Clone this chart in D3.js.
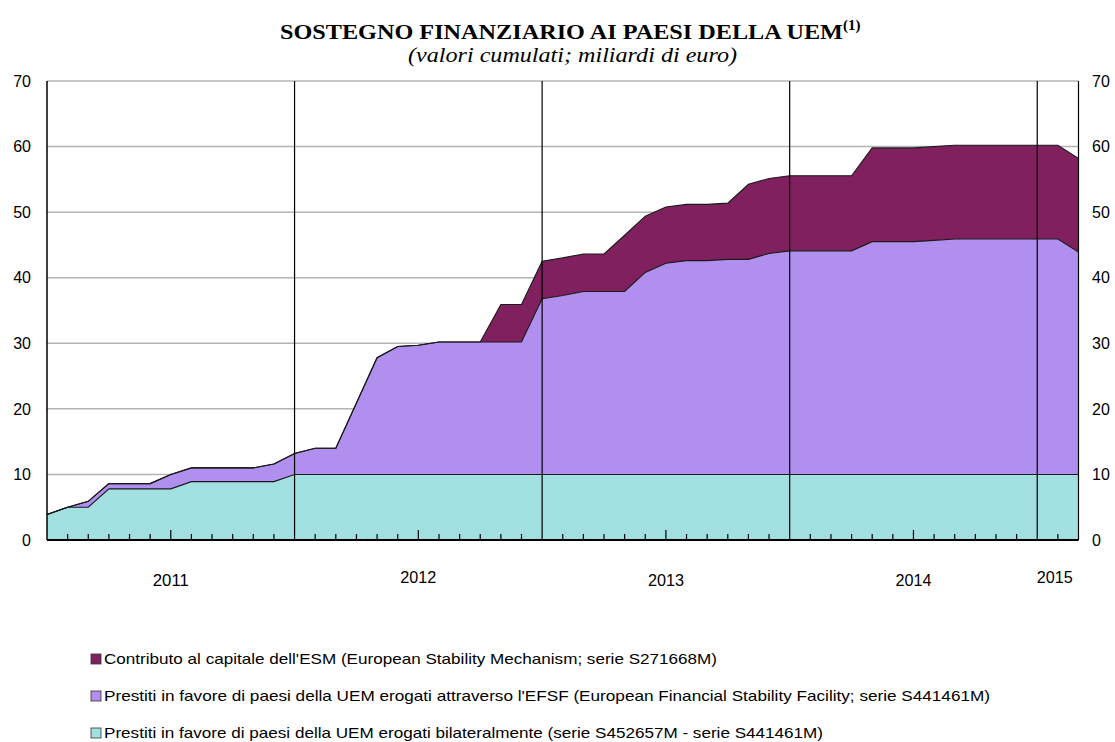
<!DOCTYPE html>
<html>
<head>
<meta charset="utf-8">
<title>Sostegno finanziario ai paesi della UEM</title>
<style>
  body { margin: 0; background: #fff; }
  text { font-family: "Liberation Sans", Arial, sans-serif; }
</style>
</head>
<body>
<script src="https://cdn.jsdelivr.net/npm/d3@7"></script>
<script>
// mesi gen 2011 - mar 2015
var months = d3.timeMonth.range(new Date(2011, 0, 1), new Date(2015, 3, 1)).map(d3.timeFormat("%Y-%m"));

// prestiti bilaterali
var bilat = [3.9, 5.0, 5.0, 7.8, 7.8, 7.8, 7.8, 8.9, 8.9, 8.9, 8.9, 8.9,
  10, 10, 10, 10, 10, 10, 10, 10, 10, 10, 10, 10,
  10, 10, 10, 10, 10, 10, 10, 10, 10, 10, 10, 10,
  10, 10, 10, 10, 10, 10, 10, 10, 10, 10, 10, 10,
  10, 10, 10];
// prestiti EFSF
var efsf = [0, 0, 0.9, 0.8, 0.8, 0.8, 2.2, 2.1, 2.1, 2.1, 2.1, 2.7,
  3.2, 4.0, 4.0, 10.9, 17.8, 19.5, 19.7, 20.2, 20.2, 20.2, 20.2, 20.2,
  26.8, 27.3, 27.9, 27.9, 27.9, 30.8, 32.2, 32.6, 32.6, 32.8, 32.8, 33.7,
  34.1, 34.1, 34.1, 34.1, 35.5, 35.5, 35.5, 35.7, 35.9, 35.9, 35.9, 35.9,
  35.9, 35.9, 33.9];
// capitale ESM
var esm = [0, 0, 0, 0, 0, 0, 0, 0, 0, 0, 0, 0,
  0, 0, 0, 0, 0, 0, 0, 0, 0, 0, 5.72, 5.72,
  5.72, 5.72, 5.72, 5.72, 8.58, 8.58, 8.58, 8.58, 8.58, 8.58, 11.44, 11.44,
  11.44, 11.44, 11.44, 11.44, 14.3, 14.3, 14.3, 14.3, 14.3, 14.3, 14.3, 14.3,
  14.3, 14.3, 14.3];

var yTicks = [0, 10, 20, 30, 40, 50, 60, 70];
var years = ["2011", "2012", "2013", "2014", "2015"];
var yearStart = ["2011-01", "2012-01", "2013-01", "2014-01", "2015-01"];
var yearLabelAt = ["2011-07", "2012-07", "2013-07", "2014-07", "2015-02"];
var keys = ["esm", "efsf", "bilat"];
var legendText = [
  "Contributo al capitale dell'ESM (European Stability Mechanism; serie S271668M)",
  "Prestiti in favore di paesi della UEM erogati attraverso l'EFSF (European Financial Stability Facility; serie S441461M)",
  "Prestiti in favore di paesi della UEM erogati bilateralmente (serie S452657M - serie S441461M)"
];
var legendLen = [613, 886, 719];
var colors = { bilat: "#a2dfe0", efsf: "#b18fee", esm: "#80205e" };

var table = months.map(function (m, i) {
  return { month: m, bilat: bilat[i], efsf: efsf[i], esm: esm[i] };
});

var W = 1115, H = 742;
var pLeft = 47, pRight = 1078.5, pTop = 81, pBottom = 540;

var svg = d3.select("body").append("svg")
  .attr("width", W)
  .attr("height", H);

var x = d3.scalePoint().domain(months).range([pLeft, pRight]);
var y = d3.scaleLinear().domain([0, 70]).range([pBottom, pTop]);

// titolo
var title = svg.append("text")
  .attr("x", 280)
  .attr("y", 39)
  .style("font-family", "'Liberation Serif', 'Times New Roman', serif")
  .style("font-weight", "bold")
  .style("font-size", "21px");
title.append("tspan")
  .attr("textLength", 563)
  .attr("lengthAdjust", "spacingAndGlyphs")
  .text("SOSTEGNO FINANZIARIO AI PAESI DELLA UEM");
title.append("tspan").attr("dy", -9).style("font-size", "15px").text("(1)");

svg.append("text")
  .attr("x", 408)
  .attr("y", 62)
  .attr("textLength", 329)
  .attr("lengthAdjust", "spacingAndGlyphs")
  .style("font-family", "'Liberation Serif', 'Times New Roman', serif")
  .style("font-style", "italic")
  .style("font-size", "20px")
  .text("(valori cumulati; miliardi di euro)");

// griglia
svg.selectAll(".grid")
  .data(yTicks.filter(function (d) { return d > 0; }))
  .enter().append("line")
  .attr("x1", pLeft).attr("x2", pRight)
  .attr("y1", function (d) { return y(d); })
  .attr("y2", function (d) { return y(d); })
  .attr("stroke", "#b4b4b4")
  .attr("stroke-width", 1.5);

// aree impilate
var stack = d3.stack().keys(["bilat", "efsf", "esm"]);
var series = stack(table);

var area = d3.area()
  .x(function (d) { return x(d.data.month); })
  .y0(function (d) { return y(d[0]); })
  .y1(function (d) { return y(d[1]); });

var topLine = d3.line()
  .x(function (d) { return x(d.data.month); })
  .y(function (d) { return y(d[1]); });

svg.selectAll(".area")
  .data(series)
  .enter().append("path")
  .attr("d", area)
  .attr("fill", function (d) { return colors[d.key]; });

svg.selectAll(".edge")
  .data(series)
  .enter().append("path")
  .attr("d", topLine)
  .attr("fill", "none")
  .attr("stroke", "#1a1a1a")
  .attr("stroke-width", 1.1);

// linee anni
svg.selectAll(".yearline")
  .data(yearStart.slice(1))
  .enter().append("line")
  .attr("x1", function (d) { return x(d); })
  .attr("x2", function (d) { return x(d); })
  .attr("y1", pTop).attr("y2", pBottom)
  .attr("stroke", "#000")
  .attr("stroke-width", 1.2);

// tacche mensili
svg.selectAll(".tick")
  .data(months.filter(function (m, i) { return i > 0 && i < months.length - 1 && m.slice(5) != "01"; }))
  .enter().append("line")
  .attr("x1", function (d) { return x(d); })
  .attr("x2", function (d) { return x(d); })
  .attr("y1", pBottom)
  .attr("y2", function (d) { return d.slice(5) == "07" ? pBottom - 10 : pBottom - 6; })
  .attr("stroke", "#000")
  .attr("stroke-width", 1.2);

// bordi
svg.append("line")
  .attr("x1", pLeft).attr("x2", pLeft).attr("y1", pTop).attr("y2", pBottom)
  .attr("stroke", "#000").attr("stroke-width", 1.5);
svg.append("line")
  .attr("x1", pRight).attr("x2", pRight).attr("y1", pTop).attr("y2", pBottom)
  .attr("stroke", "#000").attr("stroke-width", 1.2);
svg.append("line")
  .attr("x1", pLeft).attr("x2", pRight).attr("y1", pBottom).attr("y2", pBottom)
  .attr("stroke", "#000").attr("stroke-width", 1.8);

// etichette asse y
svg.selectAll(".yl")
  .data(yTicks)
  .enter().append("text")
  .attr("x", 31)
  .attr("y", function (d) { return y(d); })
  .attr("dy", "0.36em")
  .attr("text-anchor", "end")
  .style("font-size", "16px")
  .text(function (d) { return d; });

svg.selectAll(".yr")
  .data(yTicks)
  .enter().append("text")
  .attr("x", 1092)
  .attr("y", function (d) { return y(d); })
  .attr("dy", "0.36em")
  .style("font-size", "16px")
  .text(function (d) { return d; });

// anni
svg.selectAll(".year")
  .data(years)
  .enter().append("text")
  .attr("x", function (d, i) { return x(yearLabelAt[i]) + (i == 4 ? -3 : 0); })
  .attr("y", function (d, i) { return (i == 1 || i == 4) ? 583 : 586; })
  .attr("text-anchor", "middle")
  .attr("textLength", 36)
  .attr("lengthAdjust", "spacingAndGlyphs")
  .style("font-size", "16px")
  .text(function (d) { return d; });

// legenda
var leg = svg.selectAll(".leg")
  .data(keys)
  .enter().append("g")
  .attr("transform", function (d, i) { return "translate(91," + (664 + i * 37) + ")"; });

leg.append("rect")
  .attr("x", 0).attr("y", -10)
  .attr("width", 10).attr("height", 10)
  .attr("fill", function (d) { return colors[d]; })
  .attr("stroke", "#333").attr("stroke-width", 0.8);

leg.append("text")
  .attr("x", 13)
  .attr("y", 0)
  .attr("textLength", function (d, i) { return legendLen[i]; })
  .attr("lengthAdjust", "spacingAndGlyphs")
  .style("font-size", "15px")
  .text(function (d, i) { return legendText[i]; });
</script>
</body>
</html>
